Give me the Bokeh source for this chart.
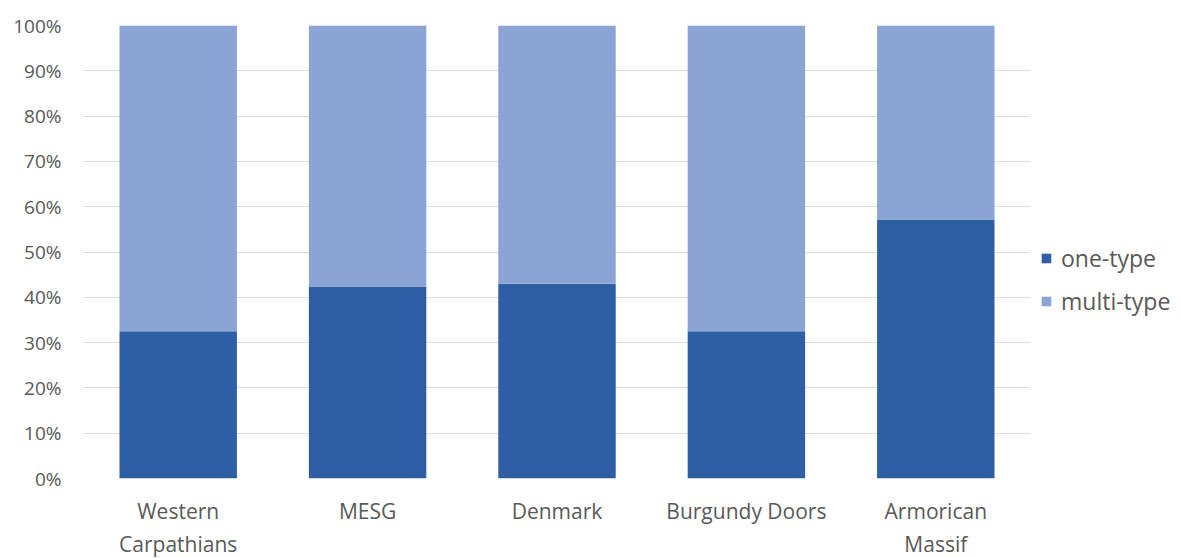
from bokeh.plotting import figure
from bokeh.models import ColumnDataSource, FactorRange, NumeralTickFormatter, FixedTicker, Legend, LegendItem
from bokeh.embed import file_html
from bokeh.resources import INLINE

# Share of sites by type, per region
regions = ["Western\nCarpathians", "MESG", "Denmark", "Burgundy Doors", "Armorican\nMassif"]
one_type = [0.325, 0.424, 0.430, 0.325, 0.572]
multi_type = [1 - v for v in one_type]
series = ["one-type", "multi-type"]
colors = ["#2e5fa4", "#8aa5d3"]
y_ticks = [i / 10 for i in range(11)]

source = ColumnDataSource(dict(region=regions, **{"one-type": one_type, "multi-type": multi_type}))

FONT = "Open Sans"
TEXT = "#595959"

p = figure(
    x_range=FactorRange(*regions, range_padding=0),
    y_range=(0, 1),
    frame_width=947, frame_height=453,
    output_backend="svg", toolbar_location=None,
    min_border_left=83, min_border_right=150, min_border_top=25, min_border_bottom=80,
)

renderers = p.vbar_stack(series, x="region", width=0.62, color=colors, source=source, line_width=0)

p.outline_line_color = None
p.background_fill_color = "white"
p.border_fill_color = "white"

p.xgrid.grid_line_color = None
p.ygrid.grid_line_color = "#d9d9d9"
p.ygrid.grid_line_width = 1
p.ygrid.ticker = FixedTicker(ticks=y_ticks)

p.yaxis.ticker = FixedTicker(ticks=y_ticks)
p.yaxis.formatter = NumeralTickFormatter(format="0%")
for ax in (p.xaxis[0], p.yaxis[0]):
    ax.axis_line_color = None
    ax.major_tick_line_color = None
    ax.minor_tick_line_color = None
    ax.major_label_text_font = FONT
    ax.major_label_text_color = TEXT
p.yaxis.major_label_text_font_size = "19px"
p.yaxis.major_label_standoff = 16
p.xaxis.major_label_text_font_size = "21px"
p.xaxis.major_label_standoff = 12

legend = Legend(
    items=[LegendItem(label=s, renderers=[r]) for s, r in zip(series, renderers)],
    location=(10, 161),
    orientation="vertical",
    label_text_font=FONT,
    label_text_font_size="23px",
    label_text_color=TEXT,
    glyph_width=12, glyph_height=12,
    label_standoff=9,
    spacing=11,
    padding=0, margin=0,
    border_line_color=None,
    background_fill_alpha=0,
)
p.add_layout(legend, "right")

open("out.html", "w").write(file_html(p, INLINE))
